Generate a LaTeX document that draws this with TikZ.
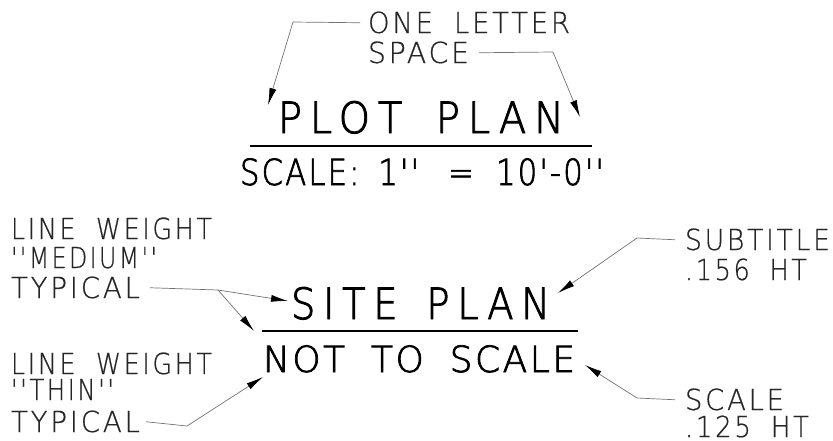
\documentclass[tikz,border=0pt]{standalone}
\usepackage{fontspec}
\usetikzlibrary{arrows.meta,calc}
\newfontfamily\ttlfont[LetterSpace=20,Ligatures=TeXOff,FakeBold=2.2]{DejaVu Sans ExtraLight}
\newfontfamily\subfont[LetterSpace=7,Ligatures=TeXOff,FakeBold=2]{DejaVu Sans ExtraLight}
\newfontfamily\lblfont[LetterSpace=10,Ligatures=TeXOff,FakeBold=0.6]{DejaVu Sans ExtraLight}
\newcommand{\fs}[1]{\fontsize{#1}{#1}\selectfont}
\newcommand{\gap}[1]{\hspace{#1pt}}
\newsavebox\fitbox
\newcommand{\fitw}[2]{\sbox\fitbox{#2}\pgfmathsetmacro\fitr{#1/\wd\fitbox}\scalebox{\fitr}[1]{\usebox\fitbox}}

\tikzset{
  txt/.style={anchor=base west,inner sep=0pt,outer sep=0pt},
  ttl/.style={txt,font=\ttlfont\fs{43}},
  sub/.style={txt,font=\subfont\fs{36}},
  lbl/.style={txt,font=\lblfont\fs{29},text=black!85,text height=21pt,text depth=0.5pt},
  uline/.style={line width=2.6pt},
  leader/.style={draw=black!55,line width=0.7pt,-{Latex[length=17pt,width=7pt,color=black]}},
  leaderline/.style={draw=black!55,line width=0.7pt}
}

\begin{document}
\begin{tikzpicture}[x=1pt,y=-1pt]
        \useasboundingbox (0,0) rectangle (833,440);

        \node[lbl] (one) at (368,33) {\fitw{202}{ONE \gap{10}LETTER}};
        \node[lbl] (spc) at (368,63) {\fitw{101}{SPACE}};
        \node[ttl] (plot) at (278,133) {\fitw{286}{PLOT \gap{14}PLAN}};
        \draw[uline] (250,146) -- (592,146);
        \node[sub] (pscale) at (240,185) {\fitw{364}{SCALE: \gap{8}1'' \gap{20}= \gap{12}10'-0''}};

        \node[lbl] (mw) at (11,239) {\fitw{201}{LINE \gap{11}WEIGHT}};
        \node[lbl] (mq) at (11,268) {\fitw{146}{''MEDIUM''}};
        \node[lbl] (mt) at (11,298) {\fitw{129}{TYPICAL}};
        \node[lbl] (tw) at (11,374) {\fitw{201}{LINE \gap{11}WEIGHT}};
        \node[lbl] (tq) at (11,400) {\fitw{103}{''THIN''}};
        \node[lbl] (tt) at (11,432) {\fitw{129}{TYPICAL}};

        \node[ttl] (site) at (291,319) {\fitw{259}{SITE \gap{10}PLAN}};
        \draw[uline] (262,331) -- (578,331);
        \node[sub] (nts) at (263,372) {\fitw{312}{NOT \gap{12}TO \gap{12}SCALE}};

        \node[lbl] (subt) at (685,250) {\fitw{145}{SUBTITLE}};
        \node[lbl] (subh) at (685,280) {\fitw{122}{.156 \gap{10}HT}};
        \node[lbl] (scl) at (685,410) {\fitw{99}{SCALE}};
        \node[lbl] (sclh) at (685,437) {\fitw{124}{.125 \gap{10}HT}};

        \coordinate (tipL) at (268,105);
        \coordinate (tipR) at (580,117);
        \coordinate (tipM1) at (288,301);
        \coordinate (tipM2) at (254,331);
        \coordinate (tipT) at (263,377);
        \coordinate (tipS) at (558,293);
        \coordinate (tipC) at (585,365);
        \coordinate (brM) at (218,290);

        \draw[leader] ([xshift=-8pt]one.west) -- (293,22) -- (tipL);
        \draw[leader] ([xshift=10pt]spc.east) -- (553,52) -- (tipR);
        \draw[leaderline] ([xshift=10pt]mt.east) -- (brM);
        \draw[leader] (brM) -- (tipM1);
        \draw[leader] (brM) -- (tipM2);
        \draw[leader] ([xshift=6pt]tt.east) -- (187,426) -- (tipT);
        \draw[leader] ([xshift=-10pt]subt.west) -- (637,238) -- (tipS);
        \draw[leader] ([xshift=-10pt]scl.west) -- (637,398) -- (tipC);
\end{tikzpicture}
\end{document}
